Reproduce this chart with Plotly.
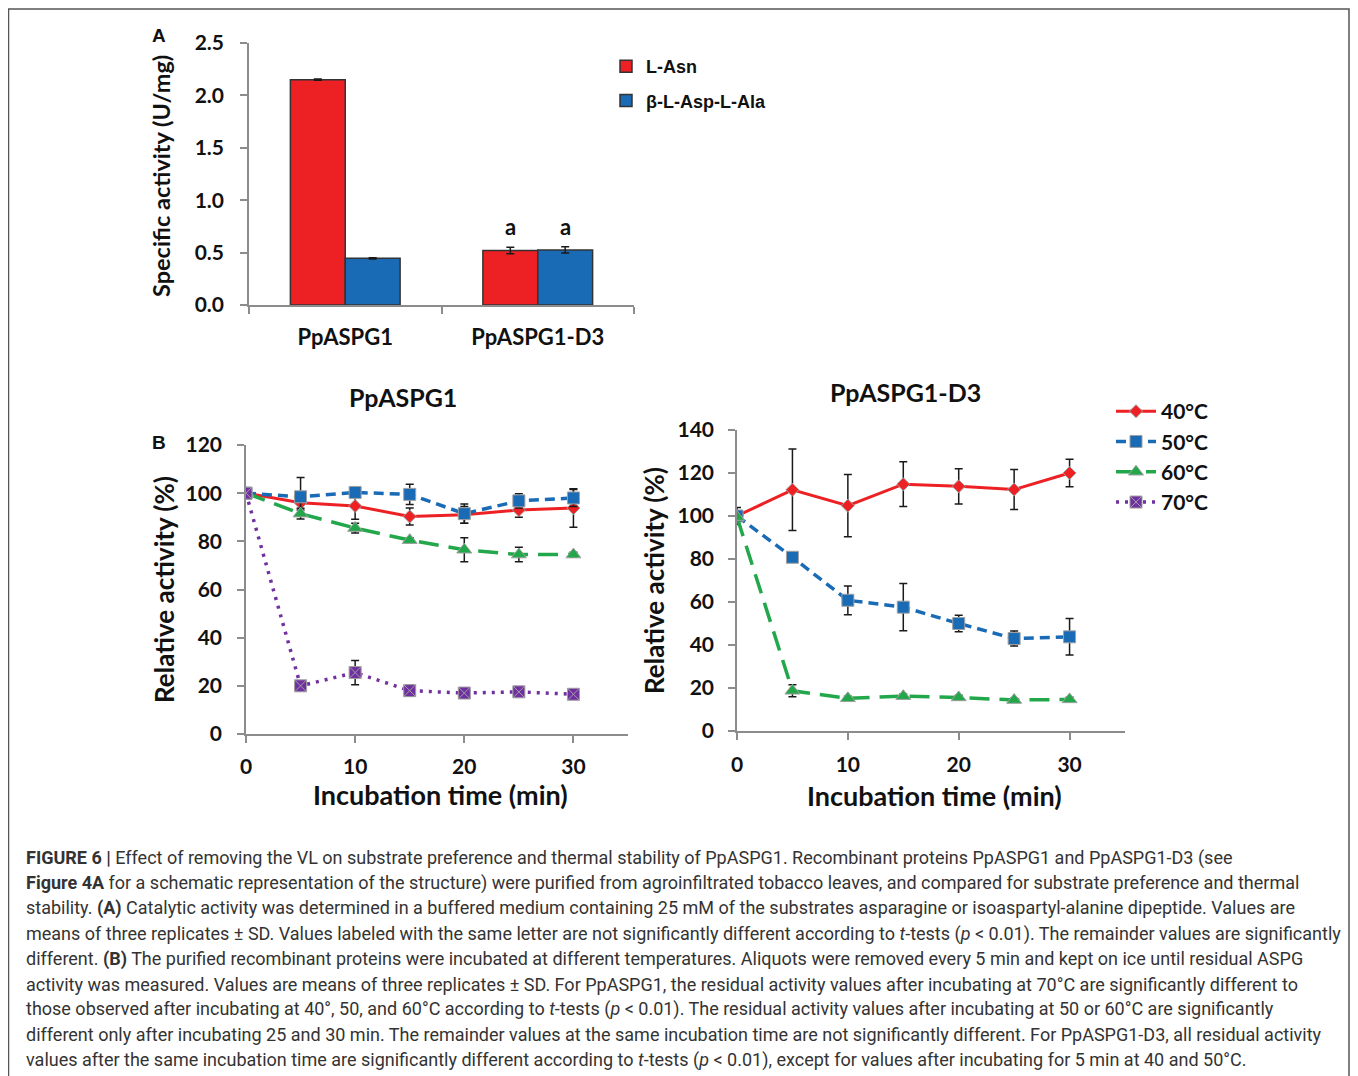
import plotly.graph_objects as go

# page body has an 8px margin: the figure is sized so it fits inside the 1358x1076 window
OFF = 8
W, H = 1358 - 2 * OFF, 1076 - OFF

# ---------------- data ----------------
proteins = ["PpASPG1", "PpASPG1-D3"]
asn_vals = [2.15, 0.52]
asn_sd = [0.006, 0.03]
aspala_vals = [0.445, 0.525]
aspala_sd = [0.006, 0.03]
sig_letters = ["a", "a"]

time_min = [0, 5, 10, 15, 20, 25, 30]

wt_40 = [100, 96, 94.7, 90.3, 91, 93, 93.8]
wt_40_sd = [2, 3, 5.5, 3.5, 3.5, 3, 8]
wt_50 = [100, 98.5, 100.3, 99.5, 91.5, 96.8, 98]
wt_50_sd = [1.5, 8, 1.5, 4.2, 4, 3, 3.5]
wt_60 = [100, 91.5, 85.5, 80.5, 76.5, 74.5, 74.5]
wt_60_sd = [1, 2.2, 2, 1, 5, 3, 1]
wt_70 = [100, 20, 25.5, 18, 17, 17.5, 16.5]
wt_70_sd = [1.5, 1, 5, 2.2, 1, 1, 1]

d3_40 = [100, 112.2, 104.8, 114.8, 113.8, 112.3, 120]
d3_40_sd = [4, 19, 14.5, 10.4, 8.2, 9.3, 6.4]
d3_50 = [100, 80.8, 60.8, 57.6, 50, 43, 43.8]
d3_50_sd = [1.5, 2, 6.7, 11, 3.8, 3.5, 8.5]
d3_60 = [99.5, 18.7, 15.2, 16.2, 15.6, 14.4, 14.7]
d3_60_sd = [1, 2.8, 1, 1, 1, 0.8, 1]

temps = ["40°C", "50°C", "60°C", "70°C"]

caption_lines = [
    "<b>FIGURE 6 |</b> Effect of removing the VL on substrate preference and thermal stability of PpASPG1. Recombinant proteins PpASPG1 and PpASPG1-D3 (see",
    "<b>Figure 4A</b> for a schematic representation of the structure) were purified from agroinfiltrated tobacco leaves, and compared for substrate preference and thermal",
    "stability. <b>(A)</b> Catalytic activity was determined in a buffered medium containing 25 mM of the substrates asparagine or isoaspartyl-alanine dipeptide. Values are",
    "means of three replicates ± SD. Values labeled with the same letter are not significantly different according to <i>t</i>-tests (<i>p</i> &lt; 0.01). The remainder values are significantly",
    "different. <b>(B)</b> The purified recombinant proteins were incubated at different temperatures. Aliquots were removed every 5 min and kept on ice until residual ASPG",
    "activity was measured. Values are means of three replicates ± SD. For PpASPG1, the residual activity values after incubating at 70°C are significantly different to",
    "those observed after incubating at 40°, 50, and 60°C according to <i>t</i>-tests (<i>p</i> &lt; 0.01). The residual activity values after incubating at 50 or 60°C are significantly",
    "different only after incubating 25 and 30 min. The remainder values at the same incubation time are not significantly different. For PpASPG1-D3, all residual activity",
    "values after the same incubation time are significantly different according to <i>t</i>-tests (<i>p</i> &lt; 0.01), except for values after incubating for 5 min at 40 and 50°C.",
]

# ---------------- styles ----------------
RED = "#ED2024"
BLUE = "#1A6BB5"
GREEN = "#22A84A"
PURPLE = "#7030A0"
AX = "#8C8C8C"
MK_LINE = "#A0A0A0"
CHART_FONT = "Lato"
ERR = dict(type="data", color="#1a1a1a", thickness=1.5, width=4)


def px_x(p):
    return (p - OFF) / W


def px_y(p):
    return 1 - (p - OFF) / H


fig = go.Figure()

# ---- Panel A bars ----
fig.add_trace(go.Bar(
    x=proteins, y=asn_vals, name="L-Asn", marker=dict(color=RED, line=dict(color="#333333", width=1.5)),
    error_y=dict(array=asn_sd, **ERR), xaxis="x", yaxis="y", legend="legend", legendgroup="a1"))
fig.add_trace(go.Bar(
    x=proteins, y=aspala_vals, name="β-L-Asp-L-Ala", marker=dict(color=BLUE, line=dict(color="#333333", width=1.5)),
    error_y=dict(array=aspala_sd, **ERR), xaxis="x", yaxis="y", legend="legend", legendgroup="a2"))

series_style = {
    "40°C": dict(color=RED, dash="solid", width=3, symbol="diamond", size=10),
    "50°C": dict(color=BLUE, dash="10px,6px", width=3.5, symbol="square", size=12),
    "60°C": dict(color=GREEN, dash="20px,10px", width=3.5, symbol="triangle-up", size=13),
    "70°C": dict(color=PURPLE, dash="3px,6px", width=3.5, symbol="square-x", size=12),
}


def add_line(name, y, sd, xa, ya, show):
    s = series_style[name]
    fig.add_trace(go.Scatter(
        x=time_min, y=y, name=name, mode="lines+markers",
        line=dict(color=s["color"], dash=s["dash"], width=s["width"]),
        marker=dict(symbol=s["symbol"], size=s["size"], color=s["color"],
                    line=dict(color=MK_LINE, width=1)),
        error_y=dict(array=sd, **ERR),
        xaxis=xa, yaxis=ya, legend="legend2", legendgroup=name, showlegend=show))


add_line("40°C", wt_40, wt_40_sd, "x2", "y2", True)
add_line("50°C", wt_50, wt_50_sd, "x2", "y2", True)
add_line("60°C", wt_60, wt_60_sd, "x2", "y2", True)
add_line("70°C", wt_70, wt_70_sd, "x2", "y2", True)

add_line("40°C", d3_40, d3_40_sd, "x3", "y3", False)
add_line("50°C", d3_50, d3_50_sd, "x3", "y3", False)
add_line("60°C", d3_60, d3_60_sd, "x3", "y3", False)

TICKFONT = dict(family=CHART_FONT, size=21, color="#111111", weight="bold")
axis_common = dict(showgrid=False, zeroline=False, showline=True, linecolor=AX, linewidth=1.5,
                   ticks="outside", tickcolor=AX, tickwidth=1.5, ticklen=7, automargin=False)

annotations = []

fig.update_layout(
    xaxis=dict(domain=[px_x(249), px_x(634)], anchor="y", type="category", range=[-0.5, 1.5],
               tickson="boundaries", ticklabelstandoff=12, tickfont=dict(TICKFONT, size=22), **axis_common),
    yaxis=dict(domain=[px_y(305), px_y(43)], anchor="x", range=[0, 2.5], tickvals=[0, 0.5, 1, 1.5, 2, 2.5],
               tickformat=".1f", ticklabelstandoff=12, tickfont=TICKFONT, **axis_common),
    xaxis2=dict(domain=[px_x(246), px_x(628)], anchor="y2", range=[0, 35], tickvals=[0, 10, 20, 30],
                ticklabelstandoff=6, tickfont=TICKFONT, **axis_common),
    yaxis2=dict(domain=[px_y(734), px_y(445)], anchor="x2", range=[0, 120], dtick=20,
                ticklabelstandoff=11, tickfont=TICKFONT, **axis_common),
    xaxis3=dict(domain=[px_x(737), px_x(1125)], anchor="y3", range=[0, 35], tickvals=[0, 10, 20, 30],
                ticklabelstandoff=7, tickfont=TICKFONT, **axis_common),
    yaxis3=dict(domain=[px_y(731), px_y(430)], anchor="x3", range=[0, 140], dtick=20,
                ticklabelstandoff=10, tickfont=TICKFONT, **axis_common),
)

# significance letters above the PpASPG1-D3 bars
annotations.append(dict(x=proteins[1], y=asn_vals[1] + asn_sd[1], xref="x", yref="y", text="<b>" + sig_letters[0] + "</b>",
                        showarrow=False, yanchor="bottom", yshift=5, xshift=-27,
                        font=dict(family=CHART_FONT, size=22, color="#111111")))
annotations.append(dict(x=proteins[1], y=aspala_vals[1] + aspala_sd[1], xref="x", yref="y", text="<b>" + sig_letters[1] + "</b>",
                        showarrow=False, yanchor="bottom", yshift=5, xshift=28,
                        font=dict(family=CHART_FONT, size=22, color="#111111")))


def ann(text, x, y, size, family=CHART_FONT, angle=0, xanchor="center", color="#111111"):
    annotations.append(dict(text=text, x=px_x(x), y=px_y(y), xref="paper", yref="paper", showarrow=False,
                            xanchor=xanchor, yanchor="middle", textangle=angle,
                            font=dict(family=family, size=size, color=color)))


# axis titles
ann("<b>Specific activity (U/mg)</b>", 161, 176, 23.5, angle=-90)
ann("<b>Relative activity (%)</b>", 164, 590, 26, angle=-90)
ann("<b>Relative activity (%)</b>", 654, 581, 26, angle=-90)
ann("<b>Incubation time (min)</b>", 440, 794, 27)
ann("<b>Incubation time (min)</b>", 934, 795, 27)
# panel titles
ann("<b>PpASPG1</b>", 403, 397, 25)
ann("<b>PpASPG1-D3</b>", 905, 392, 25)
# panel letters
ann("<b>A</b>", 159, 36, 19, family="Liberation Sans")
ann("<b>B</b>", 159, 442, 19, family="Liberation Sans")

# caption
cap_y0 = 858
cap_dy = 25.2
for i, line in enumerate(caption_lines):
    ann(line, 24, cap_y0 + i * cap_dy, 18, family="Roboto", xanchor="left", color="#333333")

fig.update_layout(
    template="none",
    width=W, height=H, margin=dict(l=0, r=0, t=0, b=0, pad=0, autoexpand=False),
    paper_bgcolor="white", plot_bgcolor="white",
    font=dict(family=CHART_FONT, color="#111111"),
    barmode="group", bargap=0.43, bargroupgap=0,
    annotations=annotations,
    legend=dict(x=px_x(606), y=px_y(48), xanchor="left", yanchor="top", bgcolor="rgba(0,0,0,0)",
                font=dict(family="Liberation Sans", size=18, color="#111111", weight="bold"),
                tracegroupgap=8, itemwidth=30),
    legend2=dict(x=px_x(1111), y=px_y(391), xanchor="left", yanchor="top", bgcolor="rgba(0,0,0,0)",
                 font=dict(family=CHART_FONT, size=21, color="#111111", weight="bold"),
                 tracegroupgap=0, itemwidth=40),
    shapes=[dict(type="rect", xref="paper", yref="paper", x0=px_x(8.5), x1=1 - 1 / W, y0=-0.02, y1=px_y(9),
                 line=dict(color="#555555", width=1.5))],
)

fig.write_html("out.html")
